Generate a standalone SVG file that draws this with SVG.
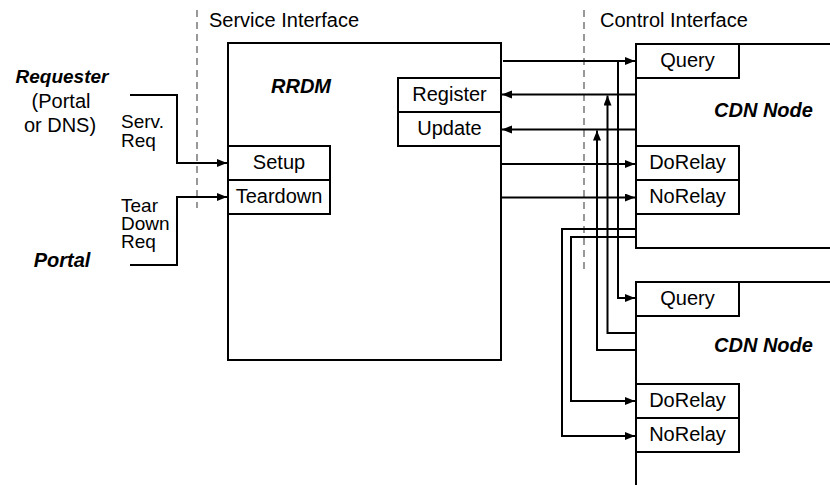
<svg xmlns="http://www.w3.org/2000/svg" width="830" height="485" viewBox="0 0 830 485">
<style>
text{font-family:"Liberation Sans",Arial,sans-serif;font-size:20px;fill:#000}
.c{text-anchor:middle}
.bi{font-weight:bold;font-style:italic}
.sm{font-size:19px}
.box{fill:#fff;stroke:#000;stroke-width:2}
.ln{fill:none;stroke:#000;stroke-width:2}
.dash{fill:none;stroke:#555;stroke-width:1.2;stroke-dasharray:7 5}
</style>
<defs>
<marker id="ah" markerUnits="userSpaceOnUse" markerWidth="11" markerHeight="9" refX="10" refY="4" orient="auto">
<path d="M0,0 L10,4 L0,8 z" fill="#000"/>
</marker>
</defs>
<rect width="830" height="485" fill="#fff"/>

<g id="interfaces">
<line class="dash" x1="197" y1="10" x2="197" y2="208"/>
<line class="dash" x1="584" y1="10" x2="584" y2="273"/>
<text x="209" y="27">Service Interface</text>
<text x="600" y="27">Control Interface</text>
</g>

<g id="requester">
<text class="c bi" x="62" y="83" style="font-size:19px">Requester</text>
<text class="c" x="61" y="108">(Portal</text>
<text class="c" x="60" y="132">or DNS)</text>
</g>

<g id="portal">
<text class="c bi" x="62" y="267">Portal</text>
</g>

<g id="rrdm">
<rect class="box" x="228" y="43" width="273" height="317"/>
<text class="bi" x="271" y="93">RRDM</text>
<rect class="box" x="228" y="146" width="102" height="34"/>
<text class="c" x="279" y="169">Setup</text>
<rect class="box" x="228" y="180" width="102" height="34"/>
<text class="c" x="279" y="203">Teardown</text>
<rect class="box" x="398" y="78" width="103" height="34"/>
<text class="c" x="449.5" y="101">Register</text>
<rect class="box" x="398" y="112" width="103" height="34"/>
<text class="c" x="449.5" y="135">Update</text>
</g>

<g id="cdn1">
<rect class="box" x="636" y="44" width="220" height="204"/>
<text class="bi" x="714" y="117">CDN Node</text>
<rect class="box" x="636" y="44" width="103" height="34"/>
<text class="c" x="687.5" y="66.5">Query</text>
<rect class="box" x="636" y="146" width="103" height="34"/>
<text class="c" x="687.5" y="169">DoRelay</text>
<rect class="box" x="636" y="180" width="103" height="34"/>
<text class="c" x="687.5" y="203">NoRelay</text>
</g>

<g id="cdn2">
<rect class="box" x="636" y="282" width="220" height="230"/>
<text class="bi" x="714" y="352">CDN Node</text>
<rect class="box" x="636" y="282" width="103" height="34"/>
<text class="c" x="687.5" y="304.5">Query</text>
<rect class="box" x="636" y="384" width="103" height="34"/>
<text class="c" x="687.5" y="407">DoRelay</text>
<rect class="box" x="636" y="418" width="103" height="34"/>
<text class="c" x="687.5" y="441">NoRelay</text>
</g>

<g id="labels">
<text class="sm" x="121" y="128">Serv.</text>
<text class="sm" x="121" y="147">Req</text>
<text class="sm" x="121" y="212">Tear</text>
<text class="sm" x="121" y="230">Down</text>
<text class="sm" x="121" y="248">Req</text>
</g>

<g id="connectors">
<path class="ln" d="M130,95 H177 V163 H227" marker-end="url(#ah)"/>
<path class="ln" d="M130,265 H177 V197 H227" marker-end="url(#ah)"/>
<path class="ln" d="M503,61 H635" marker-end="url(#ah)"/>
<path class="ln" d="M618,61 V298 H635" marker-end="url(#ah)"/>
<path class="ln" d="M636,94.5 H502" marker-end="url(#ah)"/>
<path class="ln" d="M636,129.5 H502" marker-end="url(#ah)"/>
<path class="ln" d="M501,164 H635" marker-end="url(#ah)"/>
<path class="ln" d="M501,197.5 H635" marker-end="url(#ah)"/>
<path class="ln" d="M636,333 H607.5 V95.5" marker-end="url(#ah)"/>
<path class="ln" d="M636,350 H597 V130.5" marker-end="url(#ah)"/>
<path class="ln" d="M636,229 H562 V436 H635" marker-end="url(#ah)"/>
<path class="ln" d="M636,237 H571 V401 H635" marker-end="url(#ah)"/>
</g>
</svg>
